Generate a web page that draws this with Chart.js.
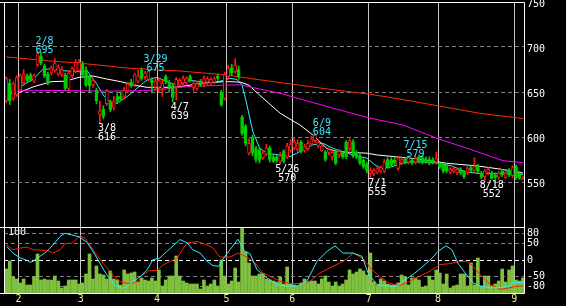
<!DOCTYPE html>
<html><head><meta charset="utf-8">
<script src="https://cdn.jsdelivr.net/npm/chart.js@4/dist/chart.umd.min.js"></script>
<style>
html,body{margin:0;padding:0;background:#000;width:566px;height:306px;overflow:hidden}
#wrap{position:relative;width:566px;height:306px}
canvas{position:absolute;left:0;top:0}
</style></head><body>
<div id="wrap"><canvas id="cp" width="566" height="306"></canvas><canvas id="cv" width="566" height="306"></canvas></div>
<script>
// ---- data ----
const monthLabels = ['2','3','4','5','6','7','8','9'];
const monthStartIdx = [4,22,44,64,83,105,125,147];
const priceTicks = [550,600,650,700,750];
const oscTicks = [-80,-50,0,50,80];
const volScaleLabel = '100';

const openP = [640,660,643,647,652,660,668,669,662,680,690,679,670,671,674,670,669,669,654,668,673,674,
681,674,667,658,652,625,631,637,638,633,645,645,645,651,661,658,662,674,667,664,663,655,
655,654,667,660,657,656,658,660,660,667,655,654,661,660,661,660,661,668,650,643,
667,677,673,675,622,612,582,600,587,586,577,581,588,578,578,573,584,578,585,
588,586,594,585,587,592,596,590,585,583,583,578,584,580,582,594,587,595,583,579,574,570,
560,559,561,562,562,575,575,574,565,571,576,572,574,572,578,577,576,575,575,572,
571,569,569,561,562,560,564,562,560,566,563,568,560,556,560,560,558,555,562,555,563,557,
567,560,552];
const highP = [667,664,661,668,670,675,670,671,670,695,694,681,672,679,687,680,678,671,674,678,686,686,
684,678,669,665,654,640,635,653,641,645,648,650,655,661,664,671,674,677,673,675,666,665,
666,663,669,663,659,666,665,668,667,669,662,662,664,668,667,666,667,670,652,672,
680,681,687,679,624,614,598,602,590,588,585,592,590,580,580,583,586,593,597,
599,597,596,592,596,601,604,596,592,585,588,585,586,586,584,596,598,597,585,582,576,572,
566,565,567,568,575,577,577,578,578,577,577,579,576,578,580,579,578,578,577,583,
573,571,570,566,567,566,566,563,567,568,577,570,562,564,566,562,560,562,564,562,565,568,
569,562,556];
const lowP = [638,636,641,645,650,657,661,662,660,678,680,666,658,669,672,668,667,652,652,666,671,672,
667,656,650,655,637,616,620,635,628,630,637,640,642,649,655,656,660,663,664,662,650,652,
650,645,659,650,639,641,656,657,658,661,651,652,656,656,658,657,659,663,634,641,
664,668,671,664,602,590,580,579,572,571,575,579,572,572,572,570,571,576,583,
586,584,582,583,585,590,594,588,584,573,580,574,569,577,576,576,585,577,576,569,565,560,
555,557,559,560,560,565,567,569,563,569,570,570,569,570,571,570,571,569,570,570,
565,560,560,559,560,558,558,554,558,561,561,560,554,552,558,553,553,553,556,554,556,555,
553,553,553];
const closeP = [665,640,659,666,668,670,663,664,668,693,682,668,661,677,682,677,675,654,671,676,683,683,
669,658,657,663,640,629,623,651,630,640,640,642,652,659,657,669,668,665,671,673,660,662,
663,660,661,655,644,664,663,665,665,663,660,659,658,665,665,664,665,665,636,669,
676,671,680,667,604,593,593,582,575,574,582,588,575,573,574,579,573,590,592,
595,593,584,589,593,598,602,594,590,575,586,583,571,584,578,578,596,579,578,571,567,563,
563,563,565,566,572,567,569,571,576,575,572,577,571,576,573,572,573,571,572,576,
567,562,562,564,565,564,560,556,565,563,567,562,555,562,564,554,555,560,558,560,558,566,
555,554,554];
const volume = [24,32,16,14,10,14,8,8,16,39,13,14,13,13,17,12,5,7,13,13,13,9,10,19,39,14,27,19,18,14,
22,14,13,8,23,19,20,21,11,15,13,12,15,12,23,7,13,17,17,37,17,
12,10,9,9,9,4,13,7,9,13,7,33,17,9,12,25,11,65,
41,30,17,17,19,19,14,13,12,11,16,9,26,9,8,7,10,14,11,12,12,9,14,17,11,7,11,7,9,13,23,19,21,24,22,18,40,
11,8,14,12,9,8,8,10,18,16,8,15,15,13,6,7,17,13,23,20,9,19,5,7,8,19,19,7,30,8,35,7,17,17,7,9,12,24,11,23,27,13,12,15];

// moving averages: [day index, price]
const maShort = [[0,647],[4,656],[7.7,664],[10.5,675],[12.6,675.6],[17.5,673.3],[21.3,672.6],[23.3,673.7],[26,659.6],[27.9,646.7],[29.9,639.2],[31.9,637.4],[34.8,644.8],[37.7,654.1],[40.6,663.3],[43.5,666.3],[46.3,661.5],[48.1,659],[50.1,659],[53,663],[56.8,661],[60.8,661],[64.5,665.2],[66.5,664],[68,657.8],[69.4,635.6],[71.1,605.9],[73.1,587.4],[75.2,581.9],[78.9,580],[81.8,578.3],[83.8,582],[85.5,585.6],[88.5,591.5],[91.3,593],[94.2,587.4],[97.1,583.7],[100,580],[104,576.5],[106.3,569],[108.3,565],[111.2,567],[114.1,570.8],[117,572.6],[120.7,572],[124.5,570.8],[128.5,567.8],[132.3,561.5],[136,559.6],[140,559.6],[144,559.6],[146.7,561.5],[149,558]];
const maMid = [[0,647],[4,650],[8,656],[13,661.5],[17,662],[21,666.3],[25,667.8],[29,664.4],[33,661.5],[36.5,657.8],[40.6,655.2],[48,655.2],[52,657],[56,659.5],[60,661],[64,661.5],[67.5,661],[70,657.5],[73,646.7],[79,626.3],[84.7,613.3],[88.5,602],[92.5,587],[95.5,583.7],[99,583],[104,582],[107,580],[117,576.3],[127,570.8],[136,567.8],[143,564],[149,560]];
const maLong = [[0,653.5],[4,652],[12,651.8],[30,651],[40,651.5],[44,652.5],[52,656],[62,657.5],[67.5,658],[71,655],[78.9,648.6],[87.6,639.2],[96.2,630],[104.9,621],[114.4,613.3],[124.2,598.5],[133.8,586.3],[143.2,573.7],[149,571.5]];
const maVeryLong = [[0,689],[12.6,684.5],[21.3,682],[35.7,676.3],[50.1,673.3],[63.3,669],[70.3,665],[81.8,659],[93.3,653],[104.9,647.5],[113.5,642.2],[124.2,634.8],[136.6,626.3],[149,620.5]];

// oscillators (lower panel): [day index, value]
const oscFast = [[0.1,41],[1.9,21],[4,6],[6,-1],[6.8,-7],[7.7,-4],[9.7,11],[11.7,26],[13.5,46],[15.5,71],[16.9,81],[18.9,76],[21.3,69],[23.3,53],[25,26],[27,-10],[29,-45],[31.3,-76],[33.4,-86],[34.8,-81],[36.5,-66],[38.6,-50],[40.6,-30],[42.3,1],[44.3,6],[46.3,26],[48.1,43],[50.1,62],[52.1,52],[53.8,31],[55.9,21],[57.9,-4],[59.6,-17],[61.3,-19],[62.5,3],[64.5,31],[66.8,63],[68.8,26],[70.3,19],[72.3,-29],[75.2,-54],[78,-74],[80.9,-79],[83.8,-79],[86.7,-64],[89.6,-4],[92.5,26],[94.8,43],[97.1,21],[100,21],[102.6,11],[104.3,-39],[104.9,-49],[106.9,-74],[109.8,-79],[112.6,-79],[114.4,-64],[117.3,-44],[120.2,-19],[122.8,6],[124.5,26],[126.8,43],[128.5,31],[130.2,-9],[132.3,-39],[134.6,-69],[136.6,-79],[139.5,-84],[142.4,-84],[145.2,-79],[146.1,-67],[149,-69]];
const oscSlow = [[0.1,46],[1.9,31],[4,36],[6,39],[7.7,31],[11.7,29],[13.5,21],[15.5,31],[16.9,49],[18.9,51],[21.3,73],[22.7,66],[25,31],[27.9,-10],[30.8,-45],[32.8,-66],[35.7,-72],[37.7,-66],[39.4,-45],[41.4,-32],[43.5,-32],[45.2,-15],[47.2,-5],[49.2,5],[50.1,20],[52.1,52],[55,56],[57.9,46],[59.6,36],[61.6,9],[64.5,9],[66.8,21],[69.4,9],[71.7,-9],[74,-39],[76.9,-54],[78.9,-64],[81.8,-71],[84.7,-71],[87.6,-64],[90.5,-39],[93.3,-24],[96.2,-9],[98.2,3],[100,21],[102.6,6],[104.3,-14],[104.9,-24],[107.8,-51],[110.6,-71],[113.5,-77],[116.4,-64],[119.3,-49],[122.2,-34],[125.1,-14],[127.9,-11],[130.8,-4],[132.8,-4],[134.6,-19],[136.6,-44],[139.5,-74],[142.4,-89],[145.2,-84],[147.3,-79],[149,-79]];

// swing annotations
const annDates = ['2/8','3/8','3/29','4/7','5/26','6/9','7/1','7/15','8/18'];
const annIdx = [9,27,41,48,79,89,105,116,138];
const annPrices = [695,616,675,639,570,604,555,579,552];
const annIsHigh = [true,false,true,false,false,true,false,true,false];

// ---- styling / chart building ----
const X_MIN = -0.66, X_MAX = 149.3;
const FONT = {family:'DejaVu Sans Mono', size:10};
const UP = '#ff1a1a', DOWN = '#00cc00';
const toXY = a => a.map(p => ({x:p[0], y:p[1]}));
const isUp = closeP.map((c,i) => c >= openP[i]);
const monthTicks = s => { s.ticks = monthStartIdx.map(v => ({value: v - 0.5})); };

const framePlugin = {
  id:'frame',
  afterDraw(chart){
    const {ctx, chartArea:a} = chart;
    ctx.save();
    ctx.strokeStyle = '#ffffff'; ctx.lineWidth = 1;
    ctx.beginPath();
    ctx.moveTo(0, Math.round(a.top)+0.5); ctx.lineTo(Math.round(a.right)+0.5, Math.round(a.top)+0.5);
    ctx.lineTo(Math.round(a.right)+0.5, Math.round(a.bottom)+0.5); ctx.lineTo(0, Math.round(a.bottom)+0.5);
    ctx.moveTo(Math.round(a.left)+0.5, Math.round(a.top)); ctx.lineTo(Math.round(a.left)+0.5, Math.round(a.bottom)+1);
    ctx.stroke();
    ctx.restore();
  }
};

const annPlugin = {
  id:'ann',
  afterDraw(chart){
    const {ctx, scales:{x, y}} = chart;
    ctx.save();
    ctx.font = '10px "DejaVu Sans Mono"';
    ctx.textAlign = 'center'; ctx.textBaseline = 'alphabetic';
    annIdx.forEach((ix, k) => {
      const px = x.getPixelForValue(ix) + 7;
      const py = y.getPixelForValue(annPrices[k]);
      if (annIsHigh[k]) {
        ctx.fillStyle = '#3ee6ff';
        ctx.fillText(annDates[k], px, py - 7.5);
        ctx.fillText(String(annPrices[k]), px, py + 1.5);
      } else {
        ctx.fillStyle = '#ffffff';
        ctx.fillText(annDates[k], px, py + 8);
        ctx.fillText(String(annPrices[k]), px, py + 17);
      }
    });
    ctx.restore();
  }
};

const volLabelPlugin = {
  id:'vlabel',
  afterDraw(chart){
    const {ctx, chartArea:a} = chart;
    ctx.save();
    ctx.font = '10px "DejaVu Sans Mono"';
    ctx.fillStyle = '#ffffff'; ctx.textAlign = 'left'; ctx.textBaseline = 'alphabetic';
    ctx.fillText(volScaleLabel, a.left + 4, a.top + 8);
    ctx.restore();
  }
};

const lineDs = (data, color, extra) => Object.assign({type:'line', data: toXY(data), borderColor: color, borderWidth: 1, pointRadius: 0, tension: 0, fill: false, order: 5}, extra || {});

new Chart(document.getElementById('cp'), {
  data: { datasets: [
    lineDs(maVeryLong, '#ff2a00'),
    lineDs(maLong, '#ff00ff'),
    lineDs(maMid, '#ffffff'),
    lineDs(maShort, '#33eeff'),
    {type:'bar', data: highP.map((h,i) => ({x:i, y:[lowP[i], h]})), backgroundColor: isUp.map(u => u ? UP : DOWN), borderWidth: 0, barThickness: 1, grouped: false, order: 2},
    {type:'bar', data: openP.map((o,i) => ({x:i, y:[o, closeP[i]]})), backgroundColor: isUp.map(u => u ? '#000000' : DOWN), borderColor: isUp.map(u => u ? UP : DOWN), borderWidth: 1, borderSkipped: false, barThickness: 3, grouped: false, order: 1}
  ]},
  options: {
    responsive: false, animation: false, devicePixelRatio: 1,
    layout: {padding: {left: 4, top: 2, right: 0, bottom: 79}},
    plugins: {legend: {display: false}, tooltip: {enabled: false}},
    scales: {
      x: {type: 'linear', min: X_MIN, max: X_MAX, offset: false, afterBuildTicks: monthTicks,
          ticks: {display: false}, grid: {color: '#c8c8c8', drawTicks: false, offset: false}, border: {display: false},
          afterFit(s){ s.height = 0; s.paddingLeft = 0; s.paddingRight = 0; }},
      y: {type: 'linear', position: 'right', min: 500, max: 750,
          afterBuildTicks(s){ s.ticks = priceTicks.map(v => ({value: v})); },
          ticks: {color: '#ffffff', font: FONT, padding: 3, labelOffset: 2.5},
          grid: {color: '#808080', drawTicks: false}, border: {display: false, dash: [4,3]},
          afterFit(s){ s.width = 42; s.paddingTop = 0; s.paddingBottom = 0; }}
    }
  },
  plugins: [framePlugin, annPlugin]
});

new Chart(document.getElementById('cv'), {
  data: { datasets: [
    {type:'bar', yAxisID: 'yv', data: volume.map((v,i) => ({x:i, y:v})), backgroundColor: '#80c040', borderWidth: 0, barThickness: 3, order: 3},
    lineDs(oscSlow, '#ff2000', {order: 2}),
    lineDs(oscFast, '#33eeff', {order: 1})
  ]},
  options: {
    responsive: false, animation: false, devicePixelRatio: 1,
    layout: {padding: {left: 4, top: 227, right: 0, bottom: 0}},
    plugins: {legend: {display: false}, tooltip: {enabled: false}},
    scales: {
      x: {type: 'linear', position: 'bottom', min: X_MIN, max: X_MAX, offset: false, afterBuildTicks: monthTicks,
          ticks: {color: '#f0f0a0', font: FONT, padding: 0, autoSkip: false, maxRotation: 0, callback: (v, i) => monthLabels[i]},
          grid: {color: '#c8c8c8', drawTicks: false, offset: false}, border: {display: false},
          afterFit(s){ s.height = 13; s.paddingLeft = 0; s.paddingRight = 0; }},
      y: {type: 'linear', position: 'right', min: -100, max: 100,
          afterBuildTicks(s){ s.ticks = oscTicks.map(v => ({value: v})); },
          ticks: {color: '#ffffff', font: FONT, padding: 3},
          grid: {color: c => (c.tick && c.tick.value === 0) ? '#ffffff' : '#808080', drawTicks: false},
          border: {display: false, dash: [4,3]},
          afterFit(s){ s.width = 42; s.paddingTop = 0; s.paddingBottom = 0; }},
      yv: {type: 'linear', display: false, min: 0, max: 66}
    }
  },
  plugins: [framePlugin, volLabelPlugin]
});
</script>
</body></html>
